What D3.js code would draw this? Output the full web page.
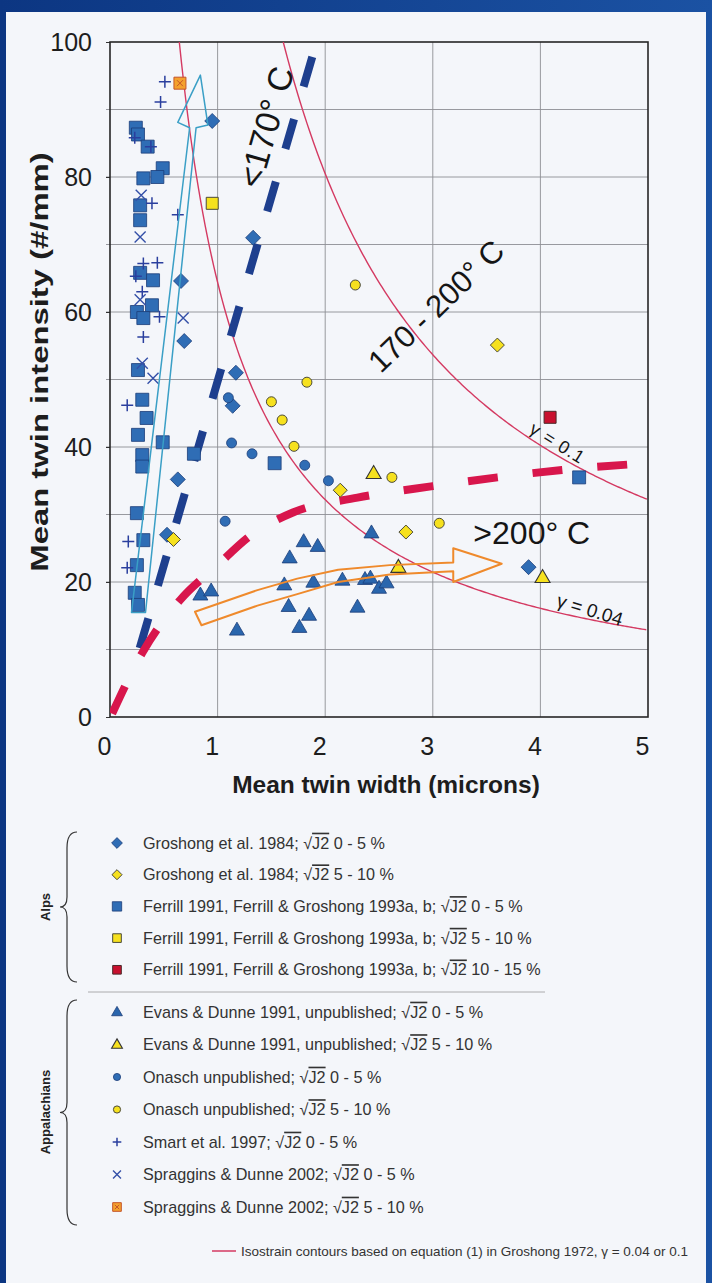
<!DOCTYPE html>
<html>
<head>
<meta charset="utf-8">
<script src="https://cdn.jsdelivr.net/npm/d3@7"></script>
<style>
  body { margin: 0; background: #14428f; }
  svg { display: block; }
</style>
</head>
<body>
<svg id="chart" width="712" height="1283"></svg>
<script>
// ---- data (x = mean twin width, microns; y = twins / mm) ----
const groshongLow = [[0.95,88.3],[0.66,64.6],[0.69,55.7],[1.33,71],[1.17,51],[1.14,46.1],[0.63,35.2],[0.53,27],[3.89,22.2]];
const groshongHigh = [[0.59,26.3],[2.14,33.6],[2.75,27.4],[3.6,55.1]];
const ferrillLow = [[0.24,87.3],[0.26,86.3],[0.35,84.5],[0.49,81.3],[0.44,80],[0.31,79.8],[0.28,75.8],[0.28,73.6],
  [0.28,65.8],[0.4,64.7],[0.39,61],[0.25,60],[0.31,59.1],[0.26,51.4],[0.3,47],[0.34,44.3],[0.26,41.8],[0.3,38.8],
  [0.3,37.1],[0.49,40.7],[0.25,30.2],[0.31,26.2],[0.25,22.5],[0.23,18.4],[0.26,16.6],[0.78,39],[1.53,37.6],[4.36,35.5]];
const ferrillHigh = [[0.95,76.1]];
const ferrillTop = [[4.09,44.4]];
const evansLow = [[0.84,18.1],[0.94,18.7],[1.18,12.9],[1.67,23.6],[1.8,26],[1.93,25.3],[1.62,19.6],[1.89,20],
  [1.66,16.4],[1.85,15.1],[1.76,13.3],[2.43,27.3],[2.16,20.3],[2.37,20.4],[2.42,20.6],[2.5,19.1],[2.57,19.9],[2.3,16.3]];
const evansHigh = [[2.45,36.1],[2.68,22.2],[4.02,20.7]];
const onaschLow = [[1.07,29],[1.13,40.6],[1.32,39],[1.81,37.3],[2.03,35],[1.1,47.3]];
const onaschHigh = [[2.28,64],[1.83,49.6],[1.5,46.7],[1.6,44],[1.71,40.1],[2.62,35.5],[3.06,28.7]];
const smartLow = [[0.51,94.1],[0.47,91.1],[0.23,85.8],[0.38,84.5],[0.39,76.1],[0.63,74.4],[0.31,67.2],[0.44,67.3],
  [0.24,65.3],[0.3,63],[0.46,59.3],[0.31,56.3],[0.16,46.2],[0.17,26],[0.16,22.1]];
const spragginsLow = [[0.29,77.3],[0.28,71.1],[0.28,61.8],[0.68,59.1],[0.3,52.4],[0.4,50.2]];
const spragginsHigh = [[0.65,93.9]];

// trend lines and annotation outlines (data units)
const blueTrend = [[0.276,10.2],[1.92,100]];
const redTrend = [[0.02,0.5],[0.3,9.5],[0.65,17.3],[1.0,22.5],[1.3,26.8],[1.7,30.3],[2.3,32.5],[3.0,34.2],[3.6,35.5],[4.2,36.6],[5.0,37.6]];
const cyanArrow = [[0.2,15.5],[0.74,87.3],[0.63,88.1],[0.84,95.1],[0.91,87.7],[0.8,87.3],[0.33,15.5]];
const orangeUpper = [[0.79,15.6],[1.37,18.8],[1.74,20.5],[2.12,21.8],[2.6,22.5],[3.19,22.9]];
const orangeLower = [[0.85,13.6],[1.37,16.5],[1.74,18.2],[2.12,20.0],[2.6,21.1],[3.19,21.6]];
const orangeHead = [[3.19,25.0],[3.64,22.7],[3.19,20.0]];

// isostrain contours: width * intensity = C * gamma
const gammas = [0.04, 0.1];
const contourC = 1610;

const xTicks = [0,1,2,3,4,5];
const yTicks = [0,20,40,60,80,100];

// legend
const alpsKeys = ["gLow","gHigh","fLow","fHigh","fTop"];
const alpsLabels = ["Groshong et al. 1984; ","Groshong et al. 1984; ","Ferrill 1991, Ferrill & Groshong 1993a, b; ","Ferrill 1991, Ferrill & Groshong 1993a, b; ","Ferrill 1991, Ferrill & Groshong 1993a, b; "];
const alpsRanges = ["0 - 5 %","5 - 10 %","0 - 5 %","5 - 10 %","10 - 15 %"];
const appKeys = ["eLow","eHigh","oLow","oHigh","sLow","spLow","spHigh"];
const appLabels = ["Evans & Dunne 1991, unpublished; ","Evans & Dunne 1991, unpublished; ","Onasch unpublished; ","Onasch unpublished; ","Smart et al. 1997; ","Spraggins & Dunne 2002; ","Spraggins & Dunne 2002; "];
const appRanges = ["0 - 5 %","5 - 10 %","0 - 5 %","5 - 10 %","0 - 5 %","0 - 5 %","5 - 10 %"];

// ---- drawing ----
const W = 712, H = 1283;
const svg = d3.select("#chart");
const font = "Liberation Sans, Arial, sans-serif";

const defs = svg.append("defs");
const grad = defs.append("linearGradient").attr("id","frame").attr("x1",0).attr("x2",1);
grad.append("stop").attr("offset",0).attr("stop-color","#0c3682");
grad.append("stop").attr("offset",1).attr("stop-color","#1b52a3");
defs.append("clipPath").attr("id","plotclip").append("rect")
  .attr("x",110).attr("y",42).attr("width",538).attr("height",675);

svg.append("rect").attr("width",W).attr("height",H).attr("fill","url(#frame)");
svg.append("rect").attr("x",6).attr("y",12).attr("width",W-12).attr("height",H-12).attr("fill","#f4f6fa");

const x = d3.scaleLinear().domain([0,5]).range([110,648]);
const y = d3.scaleLinear().domain([0,100]).range([717,42]);

// grid
const grid = svg.append("g").attr("stroke","#8d8f94").attr("stroke-width",0.9);
grid.selectAll(".gx").data(d3.range(1,5)).join("line")
  .attr("x1",d=>x(d)).attr("x2",d=>x(d)).attr("y1",y(0)).attr("y2",y(100));
grid.selectAll(".gy").data(d3.range(10,100,10)).join("line")
  .attr("x1",x(0)-4).attr("x2",x(5)).attr("y1",d=>y(d)).attr("y2",d=>y(d));

// axes
const xAxis = svg.append("g").attr("transform",`translate(0,${y(0)})`)
  .call(d3.axisBottom(x).tickValues(xTicks).tickFormat(d3.format("d")).tickSize(0).tickPadding(20));
const yAxis = svg.append("g").attr("transform",`translate(${x(0)},0)`)
  .call(d3.axisLeft(y).tickValues(yTicks).tickFormat(d3.format("d")).tickSize(4).tickPadding(14));
[xAxis,yAxis].forEach(a=>{
  a.select(".domain").remove();
  a.selectAll("text").attr("font-family",font).attr("font-size",25).attr("fill","#1d1d1d");
  a.selectAll("line").attr("stroke","#333");
});
xAxis.selectAll("text").attr("dx",-6);

svg.append("rect").attr("x",x(0)).attr("y",y(100)).attr("width",x(5)-x(0)).attr("height",y(0)-y(100))
  .attr("fill","none").attr("stroke","#262626").attr("stroke-width",1.6);

svg.append("text").attr("x",386).attr("y",793).attr("text-anchor","middle")
  .attr("font-family",font).attr("font-weight","bold").attr("font-size",24.5).attr("fill","#1d1d1d")
  .text("Mean twin width (microns)");
svg.append("text").attr("transform","translate(48,362) rotate(-90) scale(1.34,1)").attr("text-anchor","middle")
  .attr("font-family",font).attr("font-weight","bold").attr("font-size",24.5).attr("fill","#1d1d1d")
  .text("Mean twin intensity (#/mm)");

const plot = svg.append("g").attr("clip-path","url(#plotclip)");

// isostrain contours
const line = d3.line().x(d=>x(d[0])).y(d=>y(d[1]));
gammas.forEach(g=>{
  const k = contourC*g;
  const pts = d3.range(k/100, 5.001, 0.02).map(v=>[v, k/v]);
  plot.append("path").attr("d",line(pts)).attr("fill","none").attr("stroke","#d43a62").attr("stroke-width",1.4);
});

// thick dashed trends
plot.append("path").attr("d",line(blueTrend)).attr("fill","none")
  .attr("stroke","#1e3f8e").attr("stroke-width",8).attr("stroke-dasharray","31,34");
plot.append("path").attr("d",line.curve(d3.curveMonotoneX)(redTrend)).attr("fill","none")
  .attr("stroke","#d8164c").attr("stroke-width",8).attr("stroke-dasharray","30,35");
line.curve(d3.curveLinear);

// markers
const blueFill = "#2f6db5", blueEdge = "#1a3c78", yellow = "#f6e11e", yEdge = "#4a4a3a";
const sq = (s)=>`M${-s/2},${-s/2}h${s}v${s}h${-s}Z`;
const dia = (s)=>`M0,${-s/2}L${s/2},0L0,${s/2}L${-s/2},0Z`;
const tri = (s)=>{const h=s*0.866;return `M0,${-h*0.6}L${s/2},${h*0.4}L${-s/2},${h*0.4}Z`;};
const circ = (s)=>`M${s/2},0A${s/2},${s/2} 0 1 1 ${-s/2},0A${s/2},${s/2} 0 1 1 ${s/2},0Z`;
const plus = (s)=>`M${-s/2},0H${s/2}M0,${-s/2}V${s/2}`;
const times = (s)=>`M${-s/2},${-s/2}L${s/2},${s/2}M${s/2},${-s/2}L${-s/2},${s/2}`;

const styles = {
  gLow:  {shape:dia, size:15, fill:blueFill, stroke:blueEdge, sw:0.8},
  gHigh: {shape:dia, size:14, fill:yellow, stroke:yEdge, sw:1},
  fLow:  {shape:sq, size:13, fill:blueFill, stroke:blueEdge, sw:0.8},
  fHigh: {shape:sq, size:12, fill:yellow, stroke:yEdge, sw:1},
  fTop:  {shape:sq, size:12, fill:"#c8102e", stroke:"#4a2a2a", sw:1},
  eLow:  {shape:tri, size:15, fill:"#2a66ad", stroke:blueEdge, sw:0.8},
  eHigh: {shape:tri, size:15, fill:yellow, stroke:"#333", sw:1.1},
  oLow:  {shape:circ, size:10, fill:blueFill, stroke:blueEdge, sw:0.8},
  oHigh: {shape:circ, size:10, fill:yellow, stroke:yEdge, sw:1},
  sLow:  {shape:plus, size:12, fill:"none", stroke:"#2a3f9e", sw:1.5},
  spLow: {shape:times, size:11, fill:"none", stroke:"#3450a8", sw:1.4},
  spHigh:{shape:sq, size:12, fill:"#f4a12e", stroke:"#c4552a", sw:1, cross:true}
};
const seriesData = {gLow:groshongLow,gHigh:groshongHigh,fLow:ferrillLow,fHigh:ferrillHigh,fTop:ferrillTop,
  eLow:evansLow,eHigh:evansHigh,oLow:onaschLow,oHigh:onaschHigh,sLow:smartLow,spLow:spragginsLow,spHigh:spragginsHigh};
const drawOrder = ["eLow","fLow","sLow","spLow","gLow","oLow","oHigh","gHigh","eHigh","fHigh","fTop","spHigh"];

function drawMarker(g, key, scale){
  const st = styles[key];
  g.append("path").attr("d",st.shape(st.size*scale)).attr("fill",st.fill)
    .attr("stroke",st.stroke).attr("stroke-width",st.sw);
  if (st.cross) g.append("path").attr("d",times(st.size*scale*0.5)).attr("stroke","#c4552a").attr("stroke-width",1);
}
const marks = svg.append("g");
drawOrder.forEach(key=>{
  marks.selectAll(null).data(seriesData[key]).join("g")
    .attr("transform",d=>`translate(${x(d[0])},${y(d[1])})`)
    .each(function(){ drawMarker(d3.select(this), key, 1); });
});

// annotation arrows
svg.append("path").attr("d",line(cyanArrow)+"Z").attr("fill","none")
  .attr("stroke","#3a9fc6").attr("stroke-width",1.5).attr("stroke-linejoin","round");
const orangeOutline = orangeUpper.concat(orangeHead, orangeLower.slice().reverse());
svg.append("path").attr("d",line(orangeOutline)+"Z").attr("fill","none")
  .attr("stroke","#ef8a2c").attr("stroke-width",2).attr("stroke-linejoin","round");

// zone labels
const ann = svg.append("g").attr("font-family",font).attr("fill","#151515");
ann.append("text").attr("transform",`translate(${x(1.45)},${y(87.4)}) rotate(-74)`)
  .attr("text-anchor","middle").attr("dy","0.35em").attr("font-size",34).text("<170° C");
ann.append("text").attr("transform",`translate(${x(3.03)},${y(60.9)}) rotate(-44)`)
  .attr("text-anchor","middle").attr("dy","0.35em").attr("font-size",31).text("170 - 200° C");
ann.append("text").attr("transform",`translate(${x(3.92)},${y(27.3)})`)
  .attr("text-anchor","middle").attr("dy","0.35em").attr("font-size",32).text(">200° C");
ann.append("text").attr("transform",`translate(${x(4.16)},${y(40.6)}) rotate(32)`)
  .attr("text-anchor","middle").attr("dy","0.35em").attr("font-size",18).attr("letter-spacing",1).text("γ = 0.1");
ann.append("text").attr("transform",`translate(${x(4.46)},${y(15.9)}) rotate(17)`)
  .attr("text-anchor","middle").attr("dy","0.35em").attr("font-size",19).text("γ = 0.04");

// legend
const leg = svg.append("g").attr("font-family",font).attr("font-size",16.2).attr("fill","#333");
function legendRow(key, label, range, yy){
  const g = leg.append("g").attr("transform",`translate(117,${yy})`);
  drawMarker(g, key, 0.72);
  const t = g.append("text").attr("x",26).attr("dy","0.35em");
  t.append("tspan").text(label + "√");
  t.append("tspan").attr("text-decoration","overline").text("J2");
  t.append("tspan").text("  " + range);
}
alpsKeys.forEach((k,i)=>legendRow(k, alpsLabels[i], alpsRanges[i], 843 + i*31.7));
appKeys.forEach((k,i)=>legendRow(k, appLabels[i], appRanges[i], 1012 + i*32.5));

function brace(y0, y1, xr, xl){
  const m = (y0+y1)/2, c = xl+7;
  return `M${xr},${y0}Q${c},${y0} ${c},${y0+16}L${c},${m-10}Q${c},${m} ${xl},${m}Q${c},${m} ${c},${m+10}L${c},${y1-16}Q${c},${y1} ${xr},${y1}`;
}
leg.append("path").attr("d",brace(832,982,77,60)).attr("fill","none").attr("stroke","#333").attr("stroke-width",1.2);
leg.append("path").attr("d",brace(1000,1225,77,60)).attr("fill","none").attr("stroke","#333").attr("stroke-width",1.2);
leg.append("text").attr("transform","translate(50,907) rotate(-90)").attr("text-anchor","middle")
  .attr("font-weight","bold").attr("font-size",13).attr("fill","#222").text("Alps");
leg.append("text").attr("transform","translate(50,1112) rotate(-90)").attr("text-anchor","middle")
  .attr("font-weight","bold").attr("font-size",13).attr("fill","#222").text("Appalachians");
leg.append("line").attr("x1",88).attr("x2",545).attr("y1",992).attr("y2",992).attr("stroke","#999").attr("stroke-width",0.8);

// footer
svg.append("line").attr("x1",212).attr("x2",236).attr("y1",1251).attr("y2",1251).attr("stroke","#d43a62").attr("stroke-width",1.5);
svg.append("text").attr("x",241).attr("y",1251).attr("dy","0.35em").attr("font-family",font).attr("font-size",13.5).attr("fill","#333")
  .text("Isostrain contours based on equation (1) in Groshong 1972, γ = 0.04 or 0.1");
</script>
</body>
</html>
